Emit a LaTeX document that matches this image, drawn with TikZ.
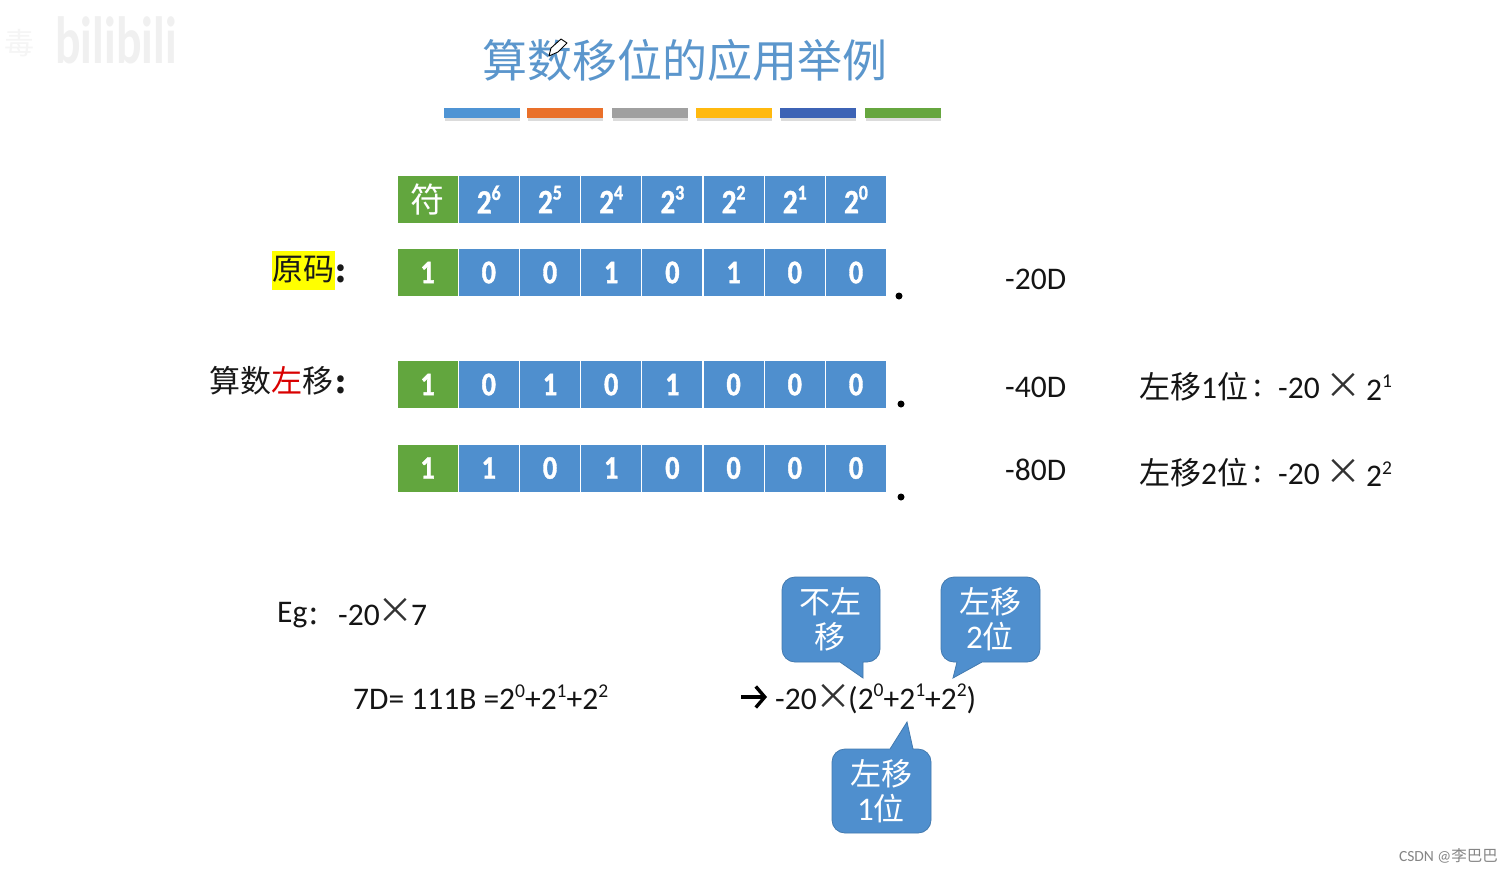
\documentclass[tikz,border=0pt]{standalone}
\usepackage{fontspec}
\setmainfont{Carlito}
\newfontfamily\cjk{Noto Sans CJK SC}
\newfontfamily\cellfont{Carlito}[BoldFeatures={FakeStretch=0.85,FakeBold=1.2}]
\usetikzlibrary{calc,arrows.meta}
\definecolor{cellblue}{HTML}{4F8FCE}
\definecolor{cellgreen}{HTML}{62A63E}
\definecolor{titleblue}{HTML}{5B96CC}
\definecolor{hl}{HTML}{FFFF00}
\newcommand{\pw}[1]{\raisebox{0.40em}{\scalebox{0.62}{#1}}}
\newcommand{\tm}{\makebox[22pt]{\fontsize{36}{36}\cjk\selectfont ×}}
\newcommand{\bitrow}[4]{% name, y, text list, size
  \foreach \t [count=\i from 0] in {#3} {
    \pgfmathsetmacro{\cx}{427.6+61.2*\i}
    \ifnum\i=0
      \node[cell,fill=cellgreen,font=#4] (#1\i) at (\cx,#2) {\t};
    \else
      \node[cell,fill=cellblue,font=#4] (#1\i) at (\cx,#2) {\t};
    \fi
  }
}
\tikzset{
  x=1pt,y=-1pt,
  cell/.style={minimum width=60pt,minimum height=47pt,inner sep=0pt,text=white,draw=none},
  colorbar/.style={minimum width=76pt,minimum height=10pt,inner sep=0pt,draw=none},
  shadowbar/.style={minimum width=75pt,minimum height=4pt,inner sep=0pt,fill=black!14,draw=none},
  plain/.style={inner sep=0pt,font=\fontsize{31.5}{33}\selectfont,text=black!92},
  rowlabel/.style={inner sep=0pt,font=\fontsize{31}{33}\cjk\selectfont,text=black!90},
  timesmark/.style={inner sep=0pt,text=black!80},
  bubble/.style={fill=cellblue,draw=cellblue!85!black,line width=0.8pt},
  bubbletext/.style={inner sep=0pt,align=center,text=white,font=\fontsize{33}{35}\selectfont},
  dotmark/.style={circle,fill=black,inner sep=0pt,minimum size=7pt},
}
\begin{document}
\begin{tikzpicture}
\useasboundingbox (0,0) rectangle (1512,873);
\fill[white] (0,0) rectangle (1512,873);

% watermark
\node[inner sep=0pt,text=black!6,font=\fontsize{58}{60}\bfseries\selectfont] (wm) at (116,40) {\scalebox{0.82}[1.15]{bilibili}};
\node[inner sep=0pt,text=black!4,font=\fontsize{30}{30}\cjk\selectfont] (wm2) at (20,43) {毒};

% title
\node[inner sep=0pt,text=titleblue,font=\fontsize{45}{47}\cjk\selectfont] (title) at (685,60) {算数移位的应用举例};
% pencil cursor
\draw[black,fill=white,line width=0.9pt,line join=round] (549,56) -- (551,48) -- (561,39) -- (567,43) -- (558,52) -- cycle;

% colour bars
\foreach \cx/\c [count=\i] in {482/4F94D4,565/E9702A,650/A0A0A0,734/FFB90F,818/3D63B5,903/66A63F}{
  \definecolor{barc}{HTML}{\c}
  \node[shadowbar] (sh\i) at (\cx,119) {};
  \node[colorbar,fill=barc] (bar\i) at (\cx,113) {};
}

% bit rows
\bitrow{h}{199.5}{{\mdseries\cjk 符},2\pw{6},2\pw{5},2\pw{4},2\pw{3},2\pw{2},2\pw{1},2\pw{0}}{\fontsize{34}{36}\cellfont\bfseries\selectfont}
\bitrow{a}{272.5}{1,0,0,1,0,1,0,0}{\fontsize{33}{35}\cellfont\bfseries\selectfont}
\bitrow{b}{384.5}{1,0,1,0,1,0,0,0}{\fontsize{33}{35}\cellfont\bfseries\selectfont}
\bitrow{c}{468}{1,1,0,1,0,0,0,0}{\fontsize{33}{35}\cellfont\bfseries\selectfont}

\node[dotmark] (d1) at (899,296) {};
\node[dotmark] (d2) at (901,404) {};
\node[dotmark] (d3) at (901,497) {};

% row labels
\node[fill=hl,minimum width=63pt,minimum height=39pt,inner sep=0pt] (yl) at (303,270) {};
\node[rowlabel,anchor=west] (l1) at (272,270) {原码};
\node[rowlabel,anchor=west] (l1c) at (335,274) {\bfseries :};
\node[rowlabel,anchor=west] (l2) at (209,381) {算数\textcolor{red!85!black}{左}移};
\node[rowlabel,anchor=west] (l2c) at (335,385) {\bfseries :};

% values
\node[plain,anchor=west] (v1) at (1005,279) {-20D};
\node[plain,anchor=west] (v2) at (1005,387) {-40D};
\node[plain,anchor=west] (v3) at (1005,470) {-80D};

\node[plain,anchor=west] (r1) at (1139,387) {{\fontsize{31}{33}\cjk\selectfont 左移}1{\fontsize{31}{33}\cjk\selectfont 位}};
\node[rowlabel,anchor=west] (r1d) at (1253,388) {:};
\node[plain,anchor=west] (r1b) at (1278,388) {-20};
\node[timesmark] (r1x) at (1343,386) {\tm};
\node[plain,anchor=west] (r1c) at (1366,388) {2\pw{1}};
\node[plain,anchor=west] (r2) at (1139,473) {{\fontsize{31}{33}\cjk\selectfont 左移}2{\fontsize{31}{33}\cjk\selectfont 位}};
\node[rowlabel,anchor=west] (r2d) at (1253,474) {:};
\node[plain,anchor=west] (r2b) at (1278,474) {-20};
\node[timesmark] (r2x) at (1343,472) {\tm};
\node[plain,anchor=west] (r2c) at (1366,474) {2\pw{2}};

% example
\node[plain,anchor=west] (eg) at (277,615) {Eg};
\node[rowlabel,anchor=west] (egd) at (309,616) {:};
\node[plain,anchor=west] (eg2) at (338,615) {-20};
\node[timesmark] (egx) at (395,611) {\tm};
\node[plain,anchor=west] (eg3) at (411,615) {7};
\node[plain,anchor=west] (f1) at (353,697) {7D= 111B =2\pw{0}+2\pw{1}+2\pw{2}};

\coordinate (arrs) at (741,697);
\coordinate (arre) at (767,697);
\draw[line width=3.4pt,-{Straight Barb[length=9pt,width=21pt,line width=3.4pt]}] (arrs) -- (arre);
\node[plain,anchor=west] (f2) at (775,699) {-20};
\node[timesmark] (f2x) at (833,697) {\tm};
\node[plain,anchor=west] (f2b) at (848,699) {(2\pw{0}+2\pw{1}+2\pw{2})};

% callouts
\draw[bubble] [rounded corners=13pt] (782,577) -- (880,577) -- (880,662) [sharp corners] -- (863,662) -- (863,678) -- (840,662) [rounded corners=13pt] -- (782,662) -- cycle;
\draw[bubble] [rounded corners=13pt] (941,577) -- (1040,577) -- (1040,662) [sharp corners] -- (982,662) -- (953,678) -- (957,662) [rounded corners=13pt] -- (941,662) -- cycle;
\draw[bubble] [rounded corners=13pt] (832,749) [sharp corners] -- (890,749) -- (907,722) -- (913,749) [rounded corners=13pt] -- (931,749) -- (931,833) -- (832,833) -- cycle;

\node[bubbletext] (c1) at (830,619) {{\fontsize{31}{35}\cjk\selectfont 不左}\\{\fontsize{31}{35}\cjk\selectfont 移}};
\node[bubbletext] (c2) at (990,619) {{\fontsize{31}{35}\cjk\selectfont 左移}\\2{\fontsize{31}{35}\cjk\selectfont 位}};
\node[bubbletext] (c3) at (881,791) {{\fontsize{31}{35}\cjk\selectfont 左移}\\1{\fontsize{31}{35}\cjk\selectfont 位}};

% credit
\node[inner sep=0pt,text=black!48,font=\fontsize{15.5}{17}\selectfont,anchor=east] (csdn) at (1498,856) {CSDN @{\cjk 李巴巴}};
\end{tikzpicture}
\end{document}
